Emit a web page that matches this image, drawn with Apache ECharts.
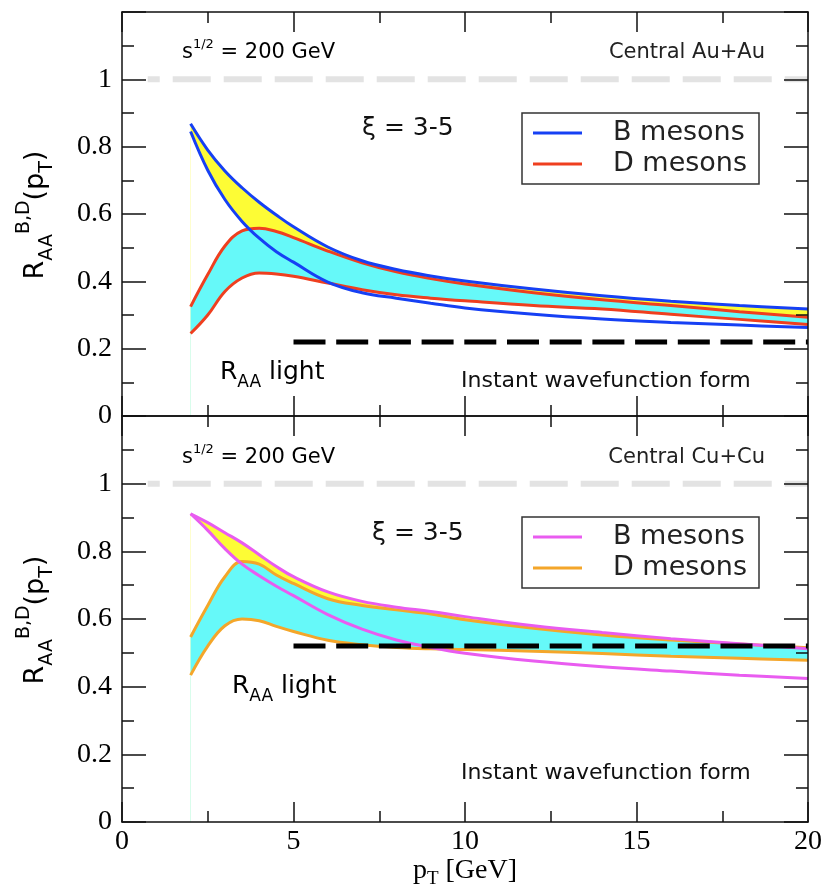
<!DOCTYPE html>
<html>
<head>
<meta charset="utf-8">
<script src="https://cdn.jsdelivr.net/npm/echarts@6/dist/echarts.min.js"></script>
<style>
  html, body { margin: 0; padding: 0; background: #fff; }
  #chart { width: 826px; height: 891px; }
</style>
</head>
<body>
<div id="chart"></div>
<script>
// Transverse momentum grid (GeV)
const pT = [2, 2.5, 3, 3.5, 4, 4.5, 5, 6, 7, 8, 9, 10, 12, 14, 16, 18, 20];

// Central Au+Au, xi = 3-5
const auBUpper = [0.868, 0.790, 0.728, 0.678, 0.635, 0.597, 0.562, 0.502, 0.461, 0.435, 0.416, 0.401, 0.377, 0.357, 0.341, 0.328, 0.318];
const auBLower = [0.845, 0.730, 0.643, 0.578, 0.528, 0.488, 0.457, 0.398, 0.366, 0.350, 0.335, 0.321, 0.302, 0.288, 0.278, 0.270, 0.263];
const auDUpper = [0.325, 0.420, 0.505, 0.550, 0.558, 0.548, 0.530, 0.490, 0.455, 0.428, 0.408, 0.392, 0.366, 0.345, 0.328, 0.310, 0.293];
const auDLower = [0.245, 0.300, 0.370, 0.410, 0.425, 0.422, 0.415, 0.395, 0.375, 0.360, 0.350, 0.342, 0.328, 0.318, 0.302, 0.287, 0.272];

// Central Cu+Cu, xi = 3-5
const cuBUpper = [0.911, 0.885, 0.855, 0.825, 0.790, 0.755, 0.725, 0.680, 0.652, 0.635, 0.622, 0.607, 0.580, 0.560, 0.542, 0.527, 0.512];
const cuBLower = [0.911, 0.862, 0.808, 0.762, 0.728, 0.697, 0.669, 0.613, 0.570, 0.538, 0.516, 0.499, 0.476, 0.459, 0.446, 0.434, 0.424];
const cuDUpper = [0.547, 0.640, 0.725, 0.770, 0.762, 0.730, 0.705, 0.660, 0.640, 0.627, 0.615, 0.598, 0.573, 0.553, 0.538, 0.526, 0.515];
const cuDLower = [0.434, 0.520, 0.580, 0.600, 0.595, 0.578, 0.563, 0.537, 0.524, 0.516, 0.512, 0.510, 0.505, 0.498, 0.490, 0.484, 0.478];

// Light-hadron R_AA levels and the no-suppression line
const raaLightAu = 0.22;
const raaLightCu = 0.52;
const raaLightFrom = 5;
const unityLevel = 1;
const unityFrom = 0.75;

// Axis ranges and tick steps
const xMin = 0, xMax = 20, xStep = 5;
const yMin = 0, yMax = 1.2, yStep = 0.2;

const colors = {
  auB: '#1640f4', auD: '#ef3f1f',
  cuB: '#e95cf0', cuD: '#f4a62a',
  bandB: '#fdfc35', bandD: '#66f9f9'
};

const SMOOTH = 0.4;
const pairs = (xs, ys) => xs.map((x, i) => [x, ys[i]]);

const SANS = 'DejaVu Sans';
const SERIF = 'Liberation Serif';

// Filled region under a curve, down to the axis minimum; bands are built by
// painting the upper edge in colour and the lower edge in white on top.
function under(panel, ys, color, z) {
  return {
    type: 'line', xAxisIndex: panel * 2, yAxisIndex: panel * 2, silent: true,
    data: pairs(pT, ys), smooth: SMOOTH, symbol: 'none',
    lineStyle: { width: 0, opacity: 0 },
    areaStyle: { color: color, opacity: 1, origin: 'start' }, z: z
  };
}

function band(panel, lower, upper, color, z) {
  return [under(panel, upper, color, z), under(panel, lower, '#ffffff', z + 0.01)];
}

function curve(panel, name, ys, color) {
  return {
    type: 'line', name: name, xAxisIndex: panel * 2, yAxisIndex: panel * 2,
    data: pairs(pT, ys), smooth: SMOOTH, symbol: 'none',
    lineStyle: { color: color, width: 3 }, z: 3
  };
}

function level(panel, from, y, style, z) {
  return {
    type: 'line', xAxisIndex: panel * 2, yAxisIndex: panel * 2, silent: true,
    data: [[from, y], [xMax, y]], symbol: 'none', lineStyle: style, z: z
  };
}

const grids = [
  { left: 122, top: 12, width: 686, height: 404 },
  { left: 122, top: 416, width: 686, height: 406 }
];

const frameLine = { show: true, onZero: false, lineStyle: { color: '#111', width: 1.5 } };

function xAxis(grid, position, labels) {
  return {
    type: 'value', gridIndex: grid, position: position, min: xMin, max: xMax, interval: xStep, z: 10,
    axisLine: frameLine,
    axisTick: { show: true, inside: true, length: 20, lineStyle: { color: '#111', width: 1.5 } },
    minorTick: { show: true, splitNumber: 2, length: 11, lineStyle: { color: '#111', width: 1.5 } },
    splitLine: { show: false }, minorSplitLine: { show: false },
    axisLabel: { show: labels, margin: 6, fontFamily: SERIF, fontSize: 28, color: '#000' },
    name: labels ? '{p|p}{s|T}{p| [GeV]}' : '',
    nameLocation: 'middle', nameGap: 28,
    nameTextStyle: {
      rich: {
        p: { fontFamily: SERIF, fontSize: 28, color: '#000', lineHeight: 36, verticalAlign: 'middle' },
        s: { fontFamily: SERIF, fontSize: 19, color: '#000', lineHeight: 19, verticalAlign: 'bottom' }
      }
    }
  };
}

function yAxis(grid, position, labels) {
  return {
    type: 'value', gridIndex: grid, position: position, min: yMin, max: yMax, interval: yStep, z: 10,
    axisLine: frameLine,
    axisTick: { show: true, inside: true, length: 24, lineStyle: { color: '#111', width: 1.5 } },
    minorTick: { show: true, splitNumber: 2, length: 12, lineStyle: { color: '#111', width: 1.5 } },
    splitLine: { show: false }, minorSplitLine: { show: false },
    axisLabel: {
      show: labels, margin: 10, fontFamily: SERIF, fontSize: 28, color: '#000',
      formatter: v => (v > 1.1 ? '' : (Number.isInteger(v) ? String(v) : v.toFixed(1)))
    }
  };
}

const unityStyle = { color: '#e3e3e3', width: 6, type: [38, 13], dashOffset: 26 };
const lightStyle = { color: '#000', width: 5, type: [32, 10.7] };

const series = [].concat(
  // Au+Au panel
  [level(0, unityFrom, unityLevel, unityStyle, 0)],
  band(0, auBLower, auBUpper, colors.bandB, 1),
  band(0, auDLower, auDUpper, colors.bandD, 1.1),
  [curve(0, 'D mesons', auDUpper, colors.auD), curve(0, 'D mesons', auDLower, colors.auD),
   curve(0, 'B mesons', auBUpper, colors.auB), curve(0, 'B mesons', auBLower, colors.auB)],
  [level(0, raaLightFrom, raaLightAu, lightStyle, 4)],
  // Cu+Cu panel
  [level(1, unityFrom, unityLevel, unityStyle, 0)],
  band(1, cuBLower, cuBUpper, colors.bandB, 1),
  band(1, cuDLower, cuDUpper, colors.bandD, 1.1),
  [curve(1, 'D mesons', cuDUpper, colors.cuD), curve(1, 'D mesons', cuDLower, colors.cuD),
   curve(1, 'B mesons', cuBUpper, colors.cuB), curve(1, 'B mesons', cuBLower, colors.cuB)],
  [level(1, raaLightFrom, raaLightCu, lightStyle, 4)]
);

// Text annotations and legend boxes
const supRich = {
  m: { fontFamily: SANS, fontSize: 21, color: '#222', lineHeight: 30, verticalAlign: 'middle' },
  sup: { fontFamily: SANS, fontSize: 13, color: '#222', lineHeight: 13, verticalAlign: 'top' }
};
const lightRich = {
  m: { fontFamily: SANS, fontSize: 25, color: '#111', lineHeight: 38, verticalAlign: 'middle' },
  sub: { fontFamily: SANS, fontSize: 17, color: '#111', lineHeight: 17, verticalAlign: 'bottom' }
};
const titleRich = {
  m: { fontFamily: SANS, fontSize: 27, color: '#111', lineHeight: 42, verticalAlign: 'middle' },
  sub: { fontFamily: SANS, fontSize: 19, color: '#111', lineHeight: 19, verticalAlign: 'bottom' },
  sup: { fontFamily: SANS, fontSize: 19, color: '#111', lineHeight: 19, verticalAlign: 'top' }
};

function panelTexts(y0, system, xiX, lightX, lightY, formY, legendY, bColor, dColor) {
  return [
    { type: 'text', z: 100, x: 182, y: y0, style: { text: '{m|s}{sup|1/2}{m| = 200 GeV}', rich: supRich, align: 'left', verticalAlign: 'middle' } },
    { type: 'text', z: 100, x: 765, y: y0, style: { text: system, fontFamily: SANS, fontSize: 21, fill: '#222', align: 'right', verticalAlign: 'middle' } },
    { type: 'text', z: 100, x: xiX, y: y0 + 75, style: { text: '\u03BE = 3-5', fontFamily: SANS, fontSize: 25, fill: '#111', align: 'left', verticalAlign: 'middle' } },
    { type: 'text', z: 100, x: lightX, y: lightY, style: { text: '{m|R}{sub|AA}{m| light}', rich: lightRich, align: 'left', verticalAlign: 'middle' } },
    { type: 'text', z: 100, x: 461, y: formY, style: { text: 'Instant wavefunction form', fontFamily: SANS, fontSize: 22, fill: '#111', align: 'left', verticalAlign: 'middle' } },
    { type: 'rect', z: 100, shape: { x: 522, y: legendY, width: 237, height: 71 }, style: { fill: '#fff', stroke: '#333', lineWidth: 1.5 } },
    { type: 'line', z: 101, shape: { x1: 533, y1: legendY + 20, x2: 582, y2: legendY + 20 }, style: { stroke: bColor, lineWidth: 3 } },
    { type: 'line', z: 101, shape: { x1: 533, y1: legendY + 51, x2: 582, y2: legendY + 51 }, style: { stroke: dColor, lineWidth: 3 } },
    { type: 'text', z: 101, x: 613, y: legendY + 20, style: { text: 'B mesons', fontFamily: SANS, fontSize: 27, fill: '#222', align: 'left', verticalAlign: 'middle' } },
    { type: 'text', z: 101, x: 613, y: legendY + 51, style: { text: 'D mesons', fontFamily: SANS, fontSize: 27, fill: '#222', align: 'left', verticalAlign: 'middle' } }
  ];
}

const yTitle = '{m|R}{sub|AA}{sup|B,D}{m|(p}{sub|T}{m|)}';

const option = {
  backgroundColor: '#fff',
  animation: false,
  grid: grids,
  xAxis: [xAxis(0, 'bottom', false), xAxis(0, 'top', false), xAxis(1, 'bottom', true), xAxis(1, 'top', false)],
  yAxis: [yAxis(0, 'left', true), yAxis(0, 'right', false), yAxis(1, 'left', true), yAxis(1, 'right', false)],
  series: series,
  graphic: [].concat(
    panelTexts(53, 'Central Au+Au', 362, 220, 372, 381, 113, colors.auB, colors.auD),
    panelTexts(458, 'Central Cu+Cu', 372, 232, 686, 773, 517, colors.cuB, colors.cuD),
    [
      { type: 'text', z: 100, x: 36, y: 215, rotation: Math.PI / 2, style: { text: yTitle, rich: titleRich, align: 'center', verticalAlign: 'middle' } },
      { type: 'text', z: 100, x: 36, y: 620, rotation: Math.PI / 2, style: { text: yTitle, rich: titleRich, align: 'center', verticalAlign: 'middle' } }
    ]
  )
};

const chart = echarts.init(document.getElementById('chart'), null, { renderer: 'canvas' });
chart.setOption(option);
</script>
</body>
</html>
